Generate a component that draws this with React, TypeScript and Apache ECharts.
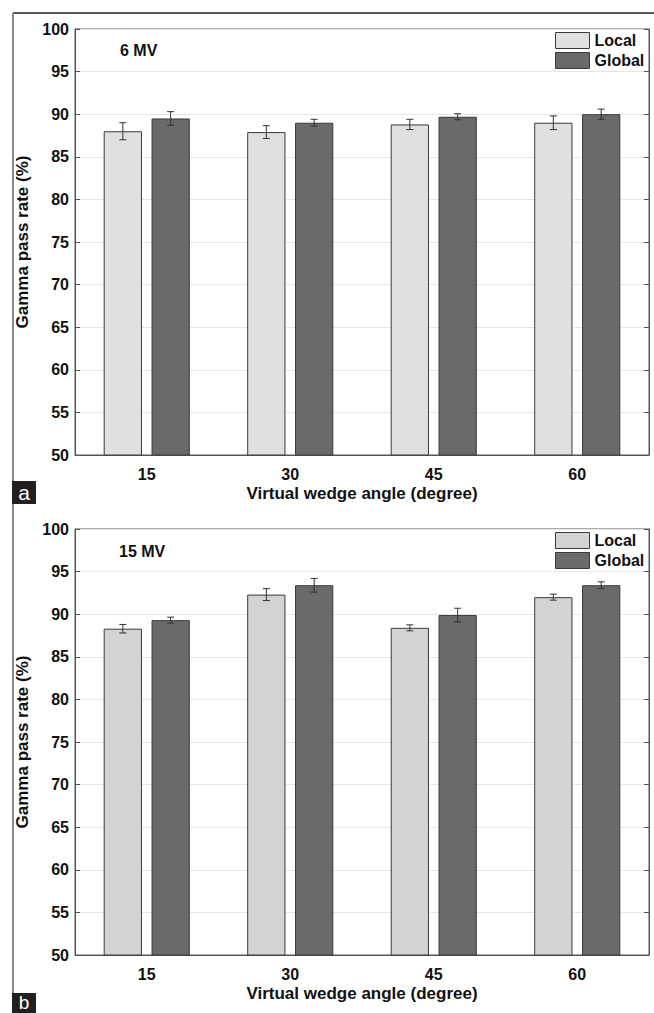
import React, { useEffect, useRef } from "react";
import * as echarts from "echarts";

const categories = ["15", "30", "45", "60"];
const yTicks = [50, 55, 60, 65, 70, 75, 80, 85, 90, 95, 100];

const localA = [88.0, 87.9, 88.8, 89.0];
const localAErr = [1.0, 0.75, 0.6, 0.8];
const globalA = [89.5, 89.0, 89.7, 90.0];
const globalAErr = [0.8, 0.4, 0.35, 0.6];

const localB = [88.3, 92.3, 88.4, 92.0];
const localBErr = [0.5, 0.7, 0.35, 0.35];
const globalB = [89.3, 93.4, 89.9, 93.4];
const globalBErr = [0.35, 0.8, 0.8, 0.4];

const panelTitles = ["6 MV", "15 MV"];
const panelTags = ["a", "b"];

const FONT = "Liberation Sans";
const LOCAL_A = "#e0e0e0";
const LOCAL_B = "#d3d3d3";
const GLOBAL = "#6a6a6a";
const EDGE = "#3a3a3a";

export default function App() {
  const ref = useRef<HTMLDivElement>(null);
  useEffect(() => {
    document.body.style.margin = "0";
    const chart = echarts.init(ref.current!, undefined, { renderer: "svg" });

    const grids = [
      { left: 75, top: 29, width: 574, height: 426 },
      { left: 75, top: 529, width: 574, height: 426 },
    ];

    const xAxes: any[] = [];
    const yAxes: any[] = [];
    const series: any[] = [];
    const legends: any[] = [];

    const errRender = (sign: number) => (params: any, api: any) => {
      const ci = api.value(0);
      const v = api.value(1);
      const e = api.value(2);
      const band = api.size([1, 0])[0];
      const bw = (band * 0.6) / 2.25;
      const off = ((bw * 1.25) / 2) * sign;
      const p1 = api.coord([ci, v + e]);
      const p2 = api.coord([ci, v - e]);
      const x = p1[0] + off;
      const cap = 3.5;
      const style = { stroke: "#333", lineWidth: 1 };
      return {
        type: "group",
        children: [
          { type: "line", shape: { x1: x, y1: p1[1], x2: x, y2: p2[1] }, style },
          { type: "line", shape: { x1: x - cap, y1: p1[1], x2: x + cap, y2: p1[1] }, style },
          { type: "line", shape: { x1: x - cap, y1: p2[1], x2: x + cap, y2: p2[1] }, style },
        ],
      };
    };

    const panels = [
      { local: localA, localErr: localAErr, global: globalA, globalErr: globalAErr, lc: LOCAL_A },
      { local: localB, localErr: localBErr, global: globalB, globalErr: globalBErr, lc: LOCAL_B },
    ];

    panels.forEach((p, i) => {
      xAxes.push({
        type: "category",
        gridIndex: i,
        data: categories,
        axisLine: { lineStyle: { color: "#555", width: 1 } },
        axisTick: { show: false },
        axisLabel: { fontFamily: FONT, fontWeight: "bold", fontSize: 16, color: "#111", margin: 11 },
        name: "Virtual wedge angle (degree)",
        nameLocation: "middle",
        nameGap: 30,
        nameTextStyle: { fontFamily: FONT, fontWeight: "bold", fontSize: 17, color: "#111" },
      });
      yAxes.push({
        type: "value",
        gridIndex: i,
        min: 50,
        max: 100,
        interval: 5,
        axisLine: { show: true, lineStyle: { color: "#555", width: 1 } },
        axisTick: { show: true, inside: true, length: 5, lineStyle: { color: "#555" } },
        axisLabel: { fontFamily: FONT, fontWeight: "bold", fontSize: 16, color: "#111", margin: 6,
          formatter: (v: number) => (yTicks.includes(v) ? String(v) : "") },
        splitLine: { show: true, lineStyle: { color: "#e6e6e6", width: 1 } },
        name: "Gamma pass rate (%)",
        nameLocation: "middle",
        nameGap: 38,
        nameTextStyle: { fontFamily: FONT, fontWeight: "bold", fontSize: 17, color: "#111" },
      });
      yAxes.push({
        type: "value",
        gridIndex: i,
        position: "right",
        min: 50,
        max: 100,
        interval: 5,
        axisLine: { show: true, lineStyle: { color: "#555", width: 1 } },
        axisTick: { show: true, inside: true, length: 5, lineStyle: { color: "#555" } },
        axisLabel: { show: false },
        splitLine: { show: false },
      });
      const xi = i;
      const yi = i * 2;
      series.push({
        name: "Local",
        type: "bar",
        xAxisIndex: xi,
        yAxisIndex: yi,
        data: p.local,
        barCategoryGap: "40%",
        barGap: "25%",
        itemStyle: { color: p.lc, borderColor: EDGE, borderWidth: 1 },
      });
      series.push({
        name: "Global",
        type: "bar",
        xAxisIndex: xi,
        yAxisIndex: yi,
        data: p.global,
        barCategoryGap: "40%",
        barGap: "25%",
        itemStyle: { color: GLOBAL, borderColor: EDGE, borderWidth: 1 },
      });
      series.push({
        type: "custom",
        xAxisIndex: xi,
        yAxisIndex: yi,
        z: 5,
        renderItem: errRender(-1),
        encode: { x: 0, y: 1 },
        data: p.local.map((v, k) => [k, v, p.localErr[k]]),
      });
      series.push({
        type: "custom",
        xAxisIndex: xi,
        yAxisIndex: yi,
        z: 5,
        renderItem: errRender(1),
        encode: { x: 0, y: 1 },
        data: p.global.map((v, k) => [k, v, p.globalErr[k]]),
      });
      legends.push({
        left: 555,
        top: grids[i].top + 3,
        orient: "vertical",
        itemGap: 3,
        itemWidth: 34,
        itemHeight: 16,
        selectedMode: false,
        padding: 0,
        textStyle: { fontFamily: FONT, fontWeight: "bold", fontSize: 16, color: "#111" },
        data: [
          { name: "Local", icon: "rect", itemStyle: { color: p.lc, borderColor: EDGE, borderWidth: 1 } },
          { name: "Global", icon: "rect", itemStyle: { color: GLOBAL, borderColor: EDGE, borderWidth: 1 } },
        ],
      });
    });

    const graphic: any[] = [
      { type: "line", shape: { x1: 13, y1: 13, x2: 654, y2: 13 }, style: { stroke: "#222", lineWidth: 1.5 } },
      { type: "line", shape: { x1: 13, y1: 13, x2: 13, y2: 481 }, style: { stroke: "#888", lineWidth: 2 } },
      { type: "line", shape: { x1: 13, y1: 504, x2: 13, y2: 993 }, style: { stroke: "#888", lineWidth: 2 } },
      { type: "rect", shape: { x: 12, y: 481, width: 24, height: 23 }, style: { fill: "#231f20" } },
      { type: "text", x: 24, y: 492, style: { text: panelTags[0], fill: "#fff", font: `21px ${FONT}`, align: "center", verticalAlign: "middle" } },
      { type: "rect", shape: { x: 12, y: 993, width: 24, height: 20 }, style: { fill: "#231f20" } },
      { type: "text", x: 24, y: 1002, style: { text: panelTags[1], fill: "#fff", font: `19px ${FONT}`, align: "center", verticalAlign: "middle" } },
      { type: "text", x: 120, y: 50, style: { text: panelTitles[0], fill: "#111", font: `bold 16px ${FONT}`, verticalAlign: "middle" } },
      { type: "text", x: 119, y: 551, style: { text: panelTitles[1], fill: "#111", font: `bold 16px ${FONT}`, verticalAlign: "middle" } },
    ];

    chart.setOption({
      animation: false,
      backgroundColor: "#fff",
      grid: grids.map((g) => ({ ...g, show: true, borderColor: "#555", borderWidth: 1, backgroundColor: "transparent" })),
      xAxis: xAxes,
      yAxis: yAxes,
      legend: legends,
      series,
      graphic,
    });
    return () => chart.dispose();
  }, []);
  return <div ref={ref} style={{ width: 654, height: 1013 }} />;
}
